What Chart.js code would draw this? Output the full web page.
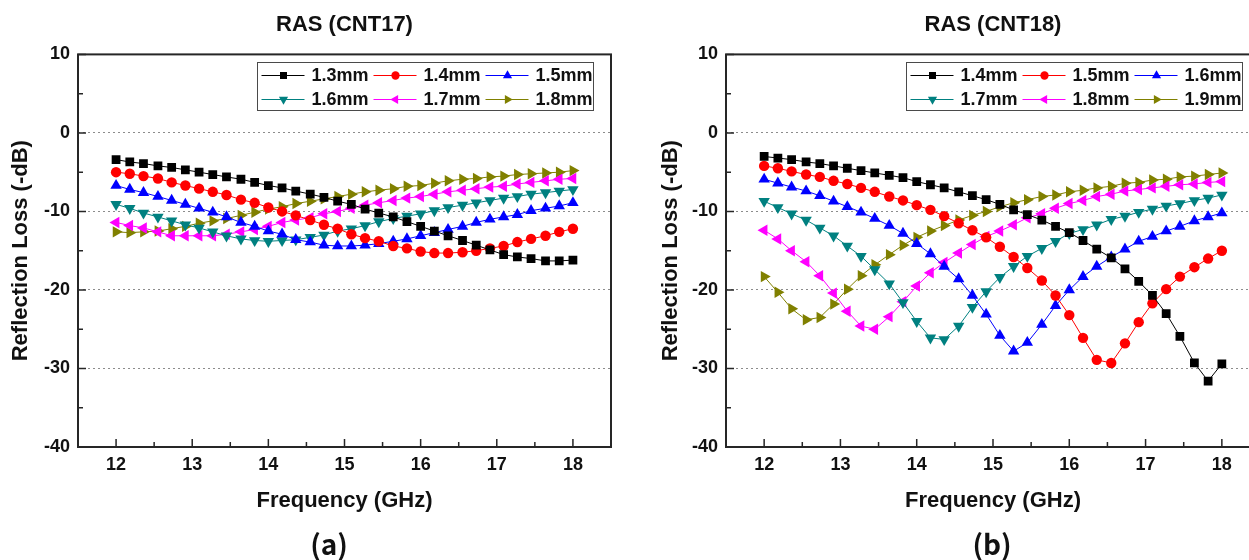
<!DOCTYPE html>
<html>
<head>
<meta charset="utf-8">
<script src="https://cdn.jsdelivr.net/npm/chart.js@4.4.1/dist/chart.umd.min.js"></script>
<style>
  html, body { margin: 0; padding: 0; background: #fff; overflow: hidden; width: 1249px; height: 560px; }
  .panel { position: absolute; top: 0; width: 640px; height: 560px; }
  #pa { left: 0; }
  #pb { left: 640px; }
  .tag { position: absolute; top: 525px; transform: translateX(-50%); font-family: "Noto Sans CJK KR", "Noto Sans", sans-serif;
         font-weight: 700; font-size: 28px; line-height: 36px; color: #111; white-space: nowrap; }
</style>
</head>
<body>
<div class="panel" id="pa"><canvas id="ca" width="640" height="560"></canvas></div>
<div class="panel" id="pb"><canvas id="cb" width="640" height="560"></canvas></div>
<div class="tag" style="left:329px">(a)</div>
<div class="tag" style="left:992px">(b)</div>

<script>
// Frequency sweep (GHz), shared by both panels
const freqGHz = [12.00, 12.18, 12.36, 12.55, 12.73, 12.91, 13.09, 13.27, 13.45, 13.64, 13.82, 14.00,
                 14.18, 14.36, 14.55, 14.73, 14.91, 15.09, 15.27, 15.45, 15.64, 15.82, 16.00, 16.18,
                 16.36, 16.55, 16.73, 16.91, 17.09, 17.27, 17.45, 17.64, 17.82, 18.00];

// Axis ticks
const xTickValues = [12, 13, 14, 15, 16, 17, 18];
const xMinorTicks = [12.5, 13.5, 14.5, 15.5, 16.5, 17.5];
const yTickValues = [10, 0, -10, -20, -30, -40];
const yMinorTicks = [5, -5, -15, -25, -35];
const yGridValues = [0, -10, -20, -30];

// RAS (CNT17) reflection loss, dB
const cnt17Labels = ['1.3mm', '1.4mm', '1.5mm', '1.6mm', '1.7mm', '1.8mm'];
const cnt17_13 = [-3.4, -3.7, -3.9, -4.2, -4.4, -4.7, -5.0, -5.3, -5.6, -5.9, -6.3, -6.7, -7.0, -7.4, -7.8, -8.2, -8.7,
                  -9.1, -9.7, -10.2, -10.7, -11.3, -11.9, -12.5, -13.1, -13.7, -14.3, -14.9, -15.5, -15.8, -16.0, -16.3, -16.3, -16.2];
const cnt17_14 = [-5.0, -5.2, -5.5, -5.8, -6.3, -6.7, -7.1, -7.5, -7.9, -8.5, -8.9, -9.5, -10.0, -10.5, -11.1, -11.7, -12.2,
                  -12.9, -13.4, -13.8, -14.4, -14.7, -15.1, -15.3, -15.3, -15.2, -15.0, -14.7, -14.4, -13.9, -13.5, -13.1, -12.6, -12.2];
const cnt17_15 = [-6.7, -7.2, -7.6, -8.1, -8.6, -9.1, -9.6, -10.1, -10.7, -11.4, -11.9, -12.5, -12.9, -13.6, -13.9, -14.3, -14.4,
                  -14.4, -14.3, -14.1, -13.8, -13.5, -13.1, -12.7, -12.3, -11.9, -11.4, -11.0, -10.7, -10.4, -9.9, -9.6, -9.3, -8.9];
const cnt17_16 = [-9.1, -9.6, -10.2, -10.7, -11.2, -11.7, -12.1, -12.6, -13.1, -13.5, -13.7, -13.8, -13.7, -13.6, -13.3, -13.0, -12.5,
                  -12.2, -11.8, -11.3, -10.9, -10.6, -10.3, -9.9, -9.5, -9.2, -8.9, -8.6, -8.3, -8.1, -7.8, -7.6, -7.4, -7.2];
const cnt17_17 = [-11.4, -11.8, -12.1, -12.6, -13.1, -13.1, -13.1, -13.1, -12.9, -12.6, -12.3, -11.9, -11.4, -11.1, -10.8, -10.3, -10.0,
                  -9.6, -9.2, -8.9, -8.6, -8.3, -8.1, -7.8, -7.5, -7.3, -7.1, -6.9, -6.8, -6.5, -6.3, -6.1, -5.9, -5.8];
const cnt17_18 = [-12.6, -12.7, -12.6, -12.5, -12.2, -11.9, -11.5, -11.2, -10.9, -10.5, -10.1, -9.7, -9.4, -9.0, -8.7, -8.4, -8.1,
                  -7.8, -7.5, -7.3, -7.1, -6.8, -6.7, -6.4, -6.1, -5.9, -5.8, -5.6, -5.5, -5.3, -5.2, -5.1, -5.0, -4.8];

// RAS (CNT18) reflection loss, dB
const cnt18Labels = ['1.4mm', '1.5mm', '1.6mm', '1.7mm', '1.8mm', '1.9mm'];
const cnt18_14 = [-3.0, -3.2, -3.4, -3.7, -3.9, -4.2, -4.5, -4.8, -5.1, -5.4, -5.7, -6.2, -6.6, -7.0, -7.5, -8.0, -8.5,
                  -9.1, -9.8, -10.4, -11.1, -11.9, -12.7, -13.7, -14.8, -15.9, -17.3, -18.9, -20.7, -23.0, -25.9, -29.3, -31.6, -29.4];
const cnt18_15 = [-4.2, -4.5, -4.9, -5.3, -5.6, -6.1, -6.5, -7.0, -7.5, -8.1, -8.6, -9.2, -9.8, -10.6, -11.5, -12.4, -13.3,
                  -14.5, -15.8, -17.2, -18.8, -20.7, -23.2, -26.1, -28.9, -29.3, -26.8, -24.1, -21.7, -19.9, -18.3, -17.1, -16.0, -15.0];
const cnt18_16 = [-5.9, -6.4, -6.9, -7.4, -8.0, -8.7, -9.4, -10.1, -10.9, -11.8, -12.8, -14.1, -15.4, -17.0, -18.6, -20.7, -23.1,
                  -25.8, -27.8, -26.7, -24.4, -22.0, -20.0, -18.3, -17.0, -15.8, -14.8, -13.8, -13.2, -12.5, -11.9, -11.2, -10.7, -10.2];
const cnt18_17 = [-8.7, -9.5, -10.3, -11.1, -12.1, -13.1, -14.4, -15.7, -17.4, -19.2, -21.6, -24.0, -26.1, -26.3, -24.6, -22.2, -20.2,
                  -18.4, -17.0, -15.7, -14.7, -13.8, -12.8, -12.3, -11.7, -11.0, -10.6, -10.1, -9.7, -9.3, -9.0, -8.6, -8.3, -7.9];
const cnt18_18 = [-12.4, -13.5, -15.0, -16.4, -18.2, -20.4, -22.7, -24.6, -25.0, -23.4, -21.5, -19.5, -17.8, -16.5, -15.3, -14.2, -13.2,
                  -12.5, -11.7, -10.8, -10.3, -9.6, -9.0, -8.6, -8.1, -7.8, -7.4, -7.2, -7.0, -6.8, -6.6, -6.5, -6.3, -6.2];
const cnt18_19 = [-18.3, -20.3, -22.4, -23.8, -23.5, -21.8, -19.9, -18.2, -16.8, -15.5, -14.3, -13.3, -12.5, -11.8, -11.1, -10.5, -10.0,
                  -9.4, -8.9, -8.5, -8.1, -7.9, -7.5, -7.3, -7.0, -6.8, -6.4, -6.3, -6.0, -5.9, -5.6, -5.5, -5.3, -5.1];

// Marker look for the six thickness series (same order in both panels)
const seriesStyles = [
  { color: '#000000', pointStyle: 'rect',     rotation: 0,   radius: 6.2 },
  { color: '#ff0000', pointStyle: 'circle',   rotation: 0,   radius: 5.2 },
  { color: '#0000ff', pointStyle: 'triangle', rotation: 0,   radius: 6.6 },
  { color: '#008080', pointStyle: 'triangle', rotation: 180, radius: 6.6 },
  { color: '#ff00ff', pointStyle: 'triangle', rotation: 270, radius: 6.6 },
  { color: '#808000', pointStyle: 'triangle', rotation: 90,  radius: 6.6 }
];

const FONT = '"Liberation Sans", Arial, Helvetica, sans-serif';
const INK = '#111111';
Chart.defaults.font.family = FONT;
Chart.defaults.color = INK;

// Closed frame around the plot area plus inward major/minor tick marks
const framePlugin = {
  id: 'frame',
  afterDatasetsDraw(chart) {
    const { ctx, chartArea: a, scales: { x, y } } = chart;
    ctx.save();
    ctx.strokeStyle = '#262626';
    ctx.lineWidth = 1.5;
    ctx.beginPath();
    xTickValues.forEach(v => { const p = x.getPixelForValue(v); ctx.moveTo(p, a.bottom); ctx.lineTo(p, a.bottom - 8); });
    xMinorTicks.forEach(v => { const p = x.getPixelForValue(v); ctx.moveTo(p, a.bottom); ctx.lineTo(p, a.bottom - 5); });
    yTickValues.forEach(v => { const p = y.getPixelForValue(v); ctx.moveTo(a.left, p); ctx.lineTo(a.left + 8, p); });
    yMinorTicks.forEach(v => { const p = y.getPixelForValue(v); ctx.moveTo(a.left, p); ctx.lineTo(a.left + 5, p); });
    ctx.stroke();
    ctx.lineWidth = 2;
    ctx.strokeRect(a.left, a.top, a.right - a.left, a.bottom - a.top);
    ctx.restore();
  }
};

// Boxed two-row legend in the upper right of the plot area
const boxLegendPlugin = {
  id: 'boxLegend',
  afterDraw(chart) {
    const { ctx, chartArea: a } = chart;
    const L = Math.round(a.right - 354) + 0.5, T = Math.round(a.top + 8) + 0.5, W = 336, H = 48;
    ctx.save();
    ctx.fillStyle = '#ffffff';
    ctx.fillRect(L, T, W, H);
    ctx.strokeStyle = '#4a4a4a';
    ctx.lineWidth = 1;
    ctx.strokeRect(L, T, W, H);
    ctx.font = 'bold 18px ' + FONT;
    ctx.textBaseline = 'middle';
    chart.data.datasets.forEach((ds, i) => {
      const col = i % 3, row = Math.floor(i / 3);
      const x0 = L + 4 + col * 112, cy = T + 13 + row * 24;
      ctx.strokeStyle = ds.borderColor;
      ctx.lineWidth = 1;
      ctx.beginPath();
      ctx.moveTo(x0, cy);
      ctx.lineTo(x0 + 43, cy);
      ctx.stroke();
      ctx.fillStyle = ds.pointBackgroundColor;
      Chart.helpers.drawPoint(ctx, { pointStyle: ds.pointStyle, rotation: ds.pointRotation, radius: ds.pointRadius * 0.8, borderWidth: 0 }, x0 + 22, cy);
      ctx.fillStyle = INK;
      ctx.fillText(ds.label, x0 + 50, cy + 1);
    });
    ctx.restore();
  }
};

function buildDatasets(labels, seriesList) {
  return seriesList.map((vals, i) => {
    const st = seriesStyles[i];
    return {
      label: labels[i],
      data: freqGHz.map((f, k) => ({ x: f, y: vals[k] })),
      borderColor: st.color,
      backgroundColor: st.color,
      borderWidth: 1,
      pointStyle: st.pointStyle,
      pointRotation: st.rotation,
      pointRadius: st.radius,
      pointBackgroundColor: st.color,
      pointBorderWidth: 0,
      tension: 0
    };
  });
}

function makePanel(canvasId, titleText, labels, seriesList, axisWidth, padRight, yTitleInset) {
  return new Chart(document.getElementById(canvasId), {
    type: 'line',
    data: { datasets: buildDatasets(labels, seriesList) },
    options: {
      responsive: false,
      maintainAspectRatio: false,
      animation: false,
      devicePixelRatio: 1,
      layout: { padding: { top: 0, left: 0, right: padRight, bottom: 40 } },
      plugins: {
        legend: { display: false },
        tooltip: { enabled: false },
        title: {
          display: true, text: titleText, fullSize: false, color: INK,
          font: { size: 22, weight: 'bold', family: FONT },
          padding: { top: 12, bottom: 16 }
        }
      },
      scales: {
        x: {
          type: 'linear', min: 11.5, max: 18.5,
          afterBuildTicks: s => { s.ticks = xTickValues.map(v => ({ value: v })); },
          afterFit: s => { s.height = 73; },
          grid: { display: false, drawTicks: false },
          border: { display: false },
          ticks: { color: INK, font: { size: 18, weight: 'bold' }, padding: 7, maxRotation: 0, autoSkip: false },
          title: { display: true, text: 'Frequency (GHz)', color: INK, font: { size: 22, weight: 'bold' }, padding: { top: 0, bottom: 6 } }
        },
        y: {
          type: 'linear', min: -40, max: 10,
          afterBuildTicks: s => { s.ticks = yTickValues.map(v => ({ value: v })); },
          afterFit: s => { s.width = axisWidth; },
          grid: {
            drawTicks: false, lineWidth: 1,
            color: c => (c.tick && yGridValues.includes(c.tick.value)) ? '#8c8c8c' : 'rgba(0,0,0,0)'
          },
          border: { display: false, dash: [2, 3] },
          ticks: { color: INK, font: { size: 18, weight: 'bold' }, padding: 8, autoSkip: false },
          title: { display: true, text: 'Reflection Loss (-dB)', color: INK, font: { size: 22, weight: 'bold' }, padding: { top: yTitleInset, bottom: 0 } }
        }
      }
    },
    plugins: [framePlugin, boxLegendPlugin]
  });
}

makePanel('ca', 'RAS (CNT17)', cnt17Labels, [cnt17_13, cnt17_14, cnt17_15, cnt17_16, cnt17_17, cnt17_18], 78, 29, 8);
makePanel('cb', 'RAS (CNT18)', cnt18Labels, [cnt18_14, cnt18_15, cnt18_16, cnt18_17, cnt18_18, cnt18_19], 86, 20, 18);
</script>
</body>
</html>
